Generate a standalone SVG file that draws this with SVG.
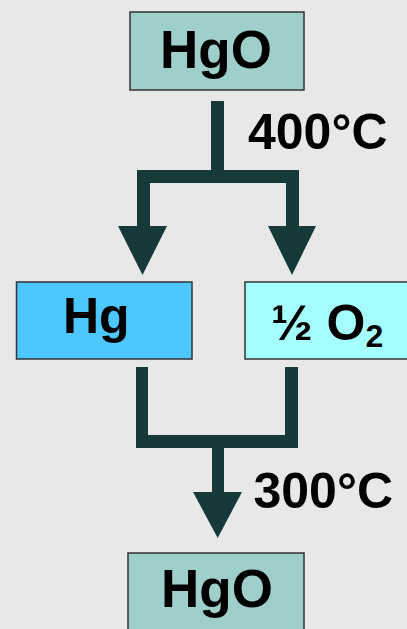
<svg xmlns="http://www.w3.org/2000/svg" width="407" height="629" viewBox="0 0 407 629">
<style>
.box{stroke:#333333;stroke-width:1.5}
.lbl{font-family:"Liberation Sans",Arial,sans-serif;font-weight:bold;font-size:50px;fill:#000}
.big{font-size:53px}
.conn{fill:#163a3a}
</style>
<rect x="0" y="0" width="407" height="629" fill="#e8e8e8"/>
<g id="hgo-top">
<rect class="box" x="130" y="12" width="174" height="78" fill="#9fcfcb"/>
<text class="lbl big" x="160" y="68">HgO</text>
</g>
<g id="hg">
<rect class="box" x="16.5" y="282" width="175.5" height="77" fill="#4dc8ff"/>
<text class="lbl" x="63" y="333">Hg</text>
</g>
<g id="o2">
<rect class="box" x="245" y="282" width="170" height="77" fill="#a5ffff"/>
<text class="lbl" x="271" y="340">½ O<tspan font-size="32" dy="7">2</tspan></text>
</g>
<g id="hgo-bottom">
<rect class="box" x="128" y="553" width="176" height="90" fill="#9fcfcb"/>
<text class="lbl big" x="161" y="607">HgO</text>
</g>
<g id="connectors">
<path class="conn" d="M211,101 H224 V170 H299 V226 H316 L292,275 L268,226 H286 V183 H150 V226 H167 L142.5,275 L118,226 H137 V170 H211 Z"/>
<path class="conn" d="M136,367 H148 V435 H285 V367 H298 V448 H224 V492 H242 L217.7,538 L193,492 H212 V448 H136 Z"/>
<text class="lbl" x="248" y="149">400°C</text>
<text class="lbl" x="253.5" y="508">300°C</text>
</g>
</svg>
